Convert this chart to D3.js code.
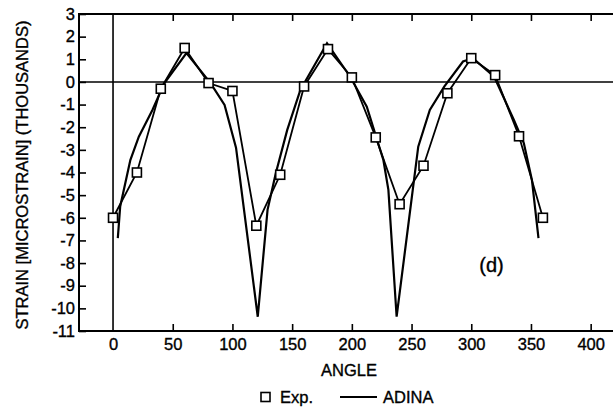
<!DOCTYPE html>
<html>
<head>
<meta charset="utf-8">
<script src="https://cdn.jsdelivr.net/npm/d3@7"></script>
<style>
html,body{margin:0;padding:0;background:#fff;}
svg{display:block;}
text{font-family:"Liberation Sans",Arial,Helvetica,sans-serif;fill:#000;stroke:#000;stroke-width:0.35px;}
</style>
</head>
<body>
<svg id="chart" width="613" height="409"></svg>
<script>
// Experimental strain (thousands of microstrain) every 20 degrees
const expAngles = [0,20,40,60,80,100,120,140,160,180,200,220,240,260,280,300,320,340,360];
const expValues = [-6.0,-4.0,-0.3,1.5,-0.05,-0.4,-6.35,-4.1,-0.2,1.45,0.2,-2.45,-5.4,-3.7,-0.5,1.05,0.3,-2.4,-6.0];

// ADINA prediction
const adinaAngles = [4.0,6.0,14.5,21.6,33.0,42.9,61.5,81.8,93.4,103.0,121.2,129.4,136.3,145.9,156.9,179.2,198.6,212.5,226.4,230.6,237.5,255.6,265.3,277.5,293.1,301.4,319.2,335.7,344.0,350.8,356.3];
const adinaValues = [-6.9,-5.5,-3.45,-2.42,-1.24,-0.06,1.27,-0.06,-1.02,-2.9,-10.37,-5.65,-4.03,-2.12,-0.35,1.71,0.23,-1.09,-3.45,-4.77,-10.37,-2.86,-1.24,-0.2,0.9,1.05,0.23,-1.68,-2.7,-4.33,-6.9];

const xTicks = [0,50,100,150,200,250,300,350,400];
const yTicks = [3,2,1,0,-1,-2,-3,-4,-5,-6,-7,-8,-9,-10,-11];

const xLabel = "ANGLE";
const yLabel = "STRAIN [MICROSTRAIN] (THOUSANDS)";
const panelLabel = "(d)";
const legendLabels = ["Exp.", "ADINA"];

const svg = d3.select("#chart");
const pL = 79, pR = 613, pT = 14, pB = 331;

const x = d3.scaleLinear().domain([-28.5, 418.7]).range([pL, pR]);
const y = d3.scaleLinear().domain([-11, 3]).range([pB, pT]);

const fs = 16.5;

// frame: left, top, bottom (right side cut off by image edge)
svg.append("line").attr("x1",pL).attr("x2",pL).attr("y1",pT-1).attr("y2",pB+1)
  .attr("stroke","#000").attr("stroke-width",2);
svg.append("line").attr("x1",pL).attr("x2",pR).attr("y1",pT).attr("y2",pT)
  .attr("stroke","#000").attr("stroke-width",2);
svg.append("line").attr("x1",pL).attr("x2",pR).attr("y1",pB).attr("y2",pB)
  .attr("stroke","#000").attr("stroke-width",2);

// zero lines
svg.append("line").attr("x1",x(0)).attr("x2",x(0)).attr("y1",pT).attr("y2",pB)
  .attr("stroke","#000").attr("stroke-width",1.6);
svg.append("line").attr("x1",pL).attr("x2",pR).attr("y1",y(0)).attr("y2",y(0))
  .attr("stroke","#000").attr("stroke-width",1.6);

// bottom axis: ticks pointing inward, labels below
const xb = svg.append("g").attr("transform",`translate(0,${pB})`)
  .call(d3.axisBottom(x).tickValues(xTicks).tickSizeInner(-7).tickSizeOuter(0).tickPadding(7).tickFormat(d3.format("d")));
xb.select(".domain").remove();
xb.selectAll(".tick line").attr("stroke-width",1.6).attr("y2", d => d===0 ? 0 : -7);
xb.selectAll("text").attr("font-size",fs).attr("font-family","Liberation Sans, Arial, sans-serif");

// top ticks
const xt = svg.append("g").attr("transform",`translate(0,${pT})`)
  .call(d3.axisTop(x).tickValues(xTicks.filter(d=>d>0)).tickSizeInner(-7).tickSizeOuter(0).tickFormat(""));
xt.select(".domain").remove();
xt.selectAll(".tick line").attr("stroke-width",1.6);

// left axis
const yl = svg.append("g").attr("transform",`translate(${pL},0)`)
  .call(d3.axisLeft(y).tickValues(yTicks).tickSizeInner(-7).tickSizeOuter(0).tickPadding(4).tickFormat(d3.format("d")));
yl.select(".domain").remove();
yl.selectAll(".tick line").attr("stroke-width",1.6);
yl.selectAll("text").attr("font-size",fs).attr("font-family","Liberation Sans, Arial, sans-serif")
  .text(d => d < 0 ? "-" + Math.abs(d) : d);

// axis titles
svg.append("text").attr("x",349).attr("y",376).attr("text-anchor","middle")
  .attr("font-size",fs).text(xLabel);
svg.append("text").attr("transform","translate(28,175) rotate(-90)").attr("text-anchor","middle")
  .attr("font-size",fs).text(yLabel);

// panel label
svg.append("text").attr("x",x(317)).attr("y",y(-8.4)).attr("text-anchor","middle")
  .attr("font-size",20).text(panelLabel);

// ADINA line
const adina = adinaAngles.map((a,i)=>[a, adinaValues[i]]);
const lineGen = d3.line().x(d=>x(d[0])).y(d=>y(d[1]));
svg.append("path").datum(adina).attr("d",lineGen).attr("fill","none")
  .attr("stroke","#000").attr("stroke-width",2.2).attr("stroke-linejoin","miter");

// Experimental line + squares
const expData = expAngles.map((a,i)=>[a, expValues[i]]);
svg.append("path").datum(expData).attr("d",lineGen).attr("fill","none")
  .attr("stroke","#000").attr("stroke-width",1.8);
const sq = 9;
svg.selectAll("rect.exp").data(expData).enter().append("rect").attr("class","exp")
  .attr("x",d=>x(d[0])-sq/2).attr("y",d=>y(d[1])-sq/2).attr("width",sq).attr("height",sq)
  .attr("fill","#fff").attr("stroke","#000").attr("stroke-width",1.6);

// legend
const ly = 397;
svg.append("rect").attr("x",261).attr("y",ly-4.5).attr("width",9).attr("height",9)
  .attr("fill","#fff").attr("stroke","#000").attr("stroke-width",1.6);
svg.append("text").attr("x",280).attr("y",ly+6).attr("font-size",fs).text(legendLabels[0]);
svg.append("line").attr("x1",340).attr("x2",377).attr("y1",ly).attr("y2",ly)
  .attr("stroke","#000").attr("stroke-width",2);
svg.append("text").attr("x",383).attr("y",ly+6).attr("font-size",fs).text(legendLabels[1]);
</script>
</body>
</html>
